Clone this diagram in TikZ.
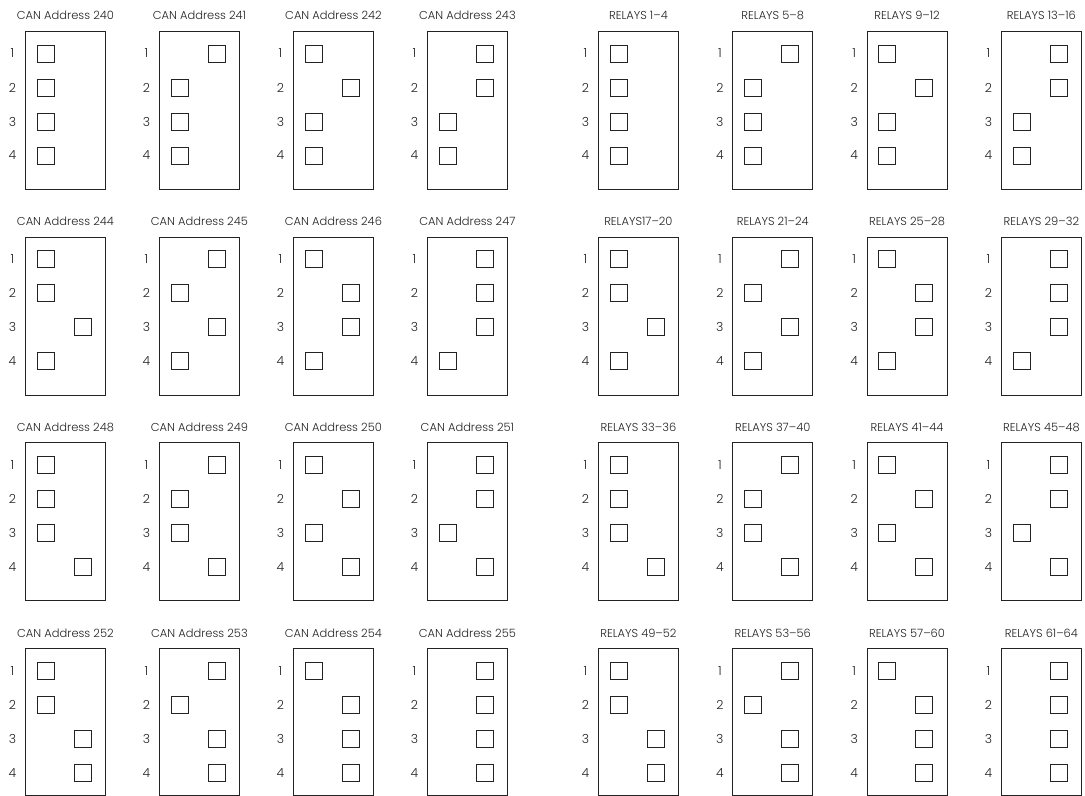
\documentclass[tikz,border=0pt]{standalone}
\usepackage{fontspec}
\setmainfont{Poppins}[UprightFont=* Light]
\usetikzlibrary{positioning}
\definecolor{inkgray}{RGB}{35,35,35}
\tikzset{
  panel/.style={
    draw=inkgray,
    line width=0.8pt,
    minimum width=80bp,
    minimum height=158bp,
    inner sep=0pt,
    anchor=north west
  },
  lastpanel/.style={panel, minimum height=147bp},
  paneltitle/.style={anchor=base, inner sep=0pt, text=inkgray, font=\fontsize{11.5}{13}\selectfont},
  pinnum/.style={inner sep=0pt, text=inkgray, font=\fontsize{12.5}{14}\selectfont},
  switchbox/.style={draw=inkgray, line width=0.8pt, minimum size=17bp, inner sep=0pt}
}

\begin{document}
\begin{tikzpicture}[x=1bp, y=-1bp]
  \useasboundingbox (0,0) rectangle (1085,796);
  % CAN address panels
  \foreach \n/\ttl in {0/CAN Address 240, 1/CAN Address 241, 2/CAN Address 242, 3/CAN Address 243,
                       4/CAN Address 244, 5/CAN Address 245, 6/CAN Address 246, 7/CAN Address 247,
                       8/CAN Address 248, 9/CAN Address 249, 10/CAN Address 250, 11/CAN Address 251,
                       12/CAN Address 252, 13/CAN Address 253, 14/CAN Address 254, 15/CAN Address 255}{
    \pgfmathsetmacro\cx{25+134*mod(\n,4)}
    \pgfmathsetmacro\cy{31+205.7*floor(\n/4)}
    \ifnum\n>11
      \node[lastpanel] (can\n) at (\cx,\cy) {};
    \else
      \node[panel] (can\n) at (\cx,\cy) {};
    \fi
    \node[paneltitle] (cantitle\n) at ([yshift=11bp]can\n.north) {\ttl};
    \foreach \k in {1,...,4}{
      \pgfmathtruncatemacro\on{mod(floor(\n/2^(\k-1)),2)}
      \pgfmathsetmacro\py{\cy+22.5+34*(\k-1)}
      \node[pinnum] (cannum\n-\k) at (\cx-12.5,\py) {\k};
      \node[switchbox] (cansw\n-\k) at (\cx+20.5+37*\on,\py) {};
    }
  }
  % relay panels
  \foreach \n/\ttl in {0/RELAYS 1–4, 1/RELAYS 5–8, 2/RELAYS 9–12, 3/RELAYS 13–16,
                       4/RELAYS17–20, 5/RELAYS 21–24, 6/RELAYS 25–28, 7/RELAYS 29–32,
                       8/RELAYS 33–36, 9/RELAYS 37–40, 10/RELAYS 41–44, 11/RELAYS 45–48,
                       12/RELAYS 49–52, 13/RELAYS 53–56, 14/RELAYS 57–60, 15/RELAYS 61–64}{
    \pgfmathsetmacro\cx{598+134.33*mod(\n,4)}
    \pgfmathsetmacro\cy{31+205.7*floor(\n/4)}
    \ifnum\n>11
      \node[lastpanel] (rly\n) at (\cx,\cy) {};
    \else
      \node[panel] (rly\n) at (\cx,\cy) {};
    \fi
    \node[paneltitle] (rlytitle\n) at ([yshift=11bp]rly\n.north) {\ttl};
    \foreach \k in {1,...,4}{
      \pgfmathtruncatemacro\on{mod(floor(\n/2^(\k-1)),2)}
      \pgfmathsetmacro\py{\cy+22.5+34*(\k-1)}
      \node[pinnum] (rlynum\n-\k) at (\cx-12.5,\py) {\k};
      \node[switchbox] (rlysw\n-\k) at (\cx+20.5+37*\on,\py) {};
    }
  }
\end{tikzpicture}
\end{document}
